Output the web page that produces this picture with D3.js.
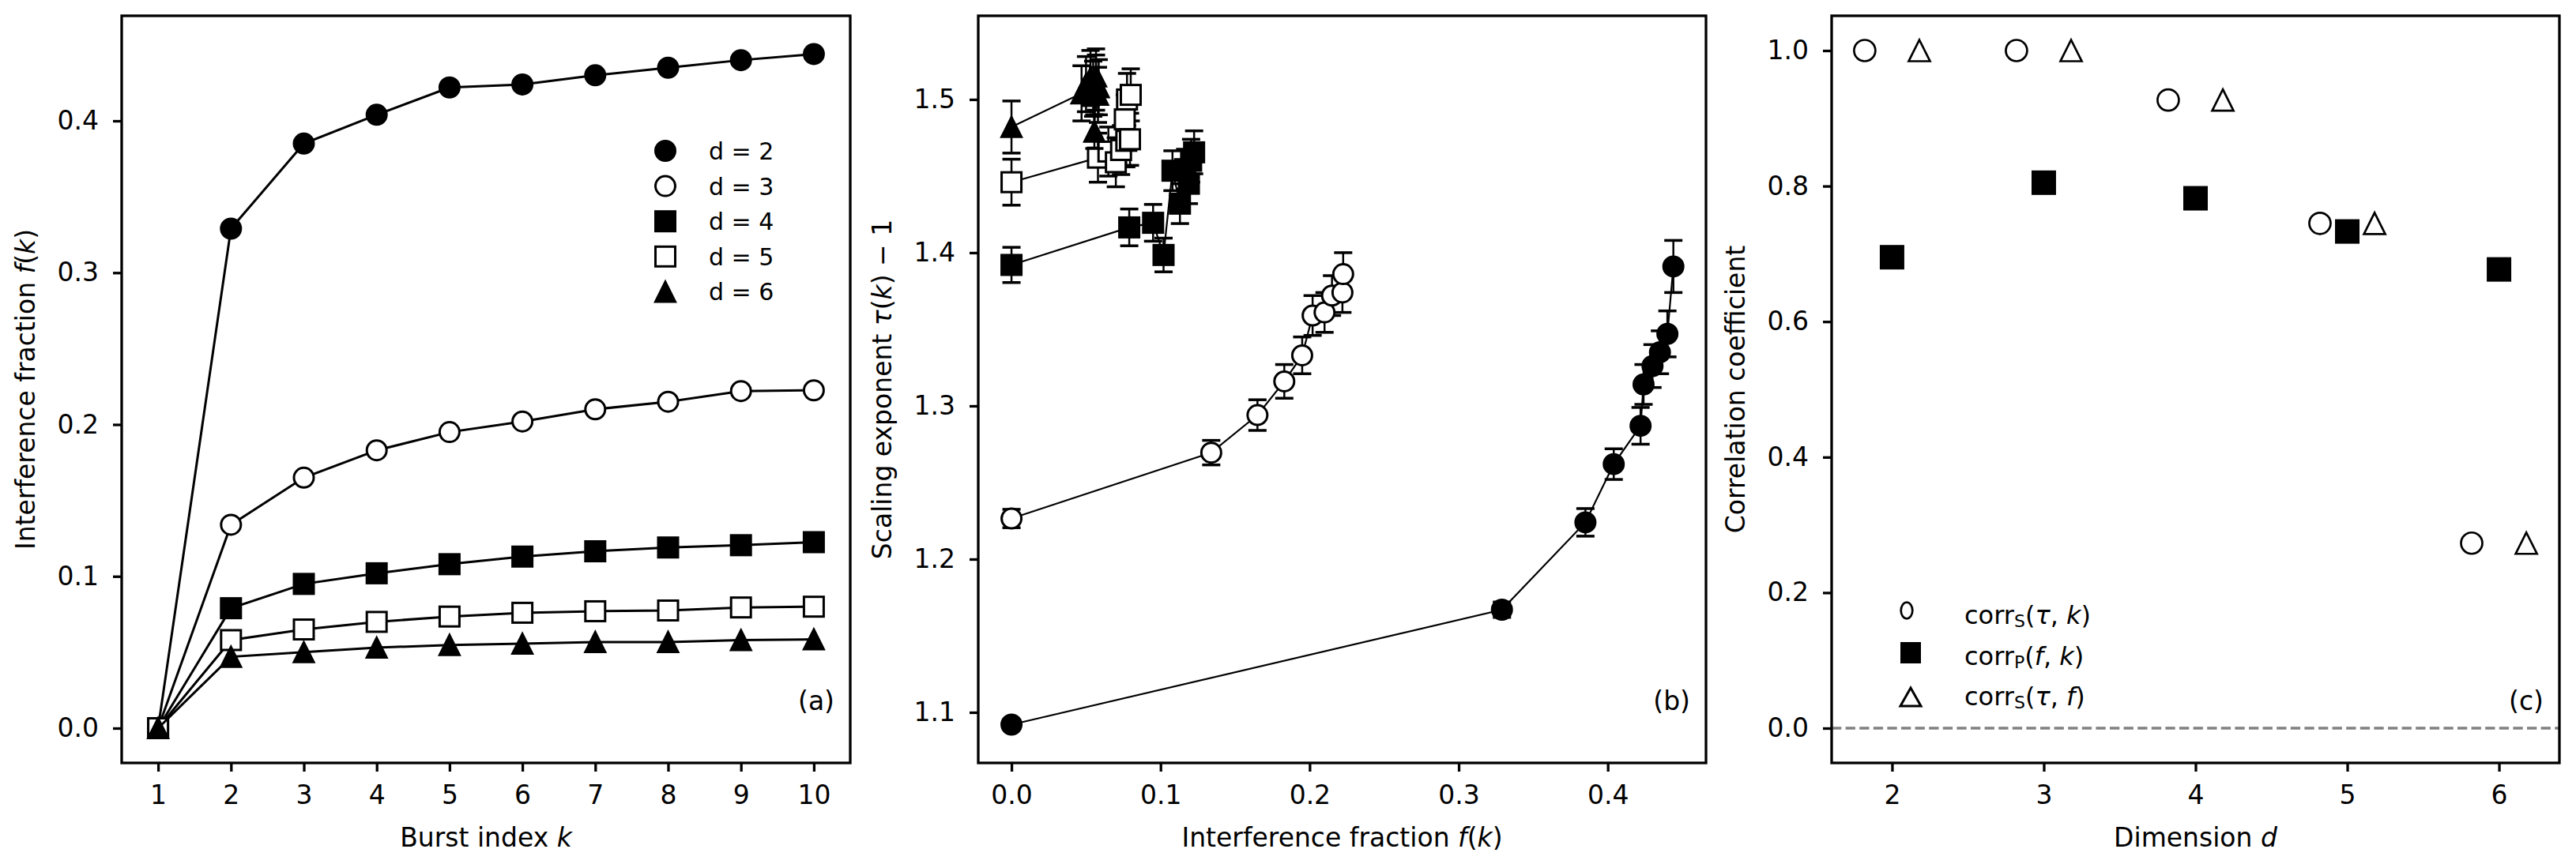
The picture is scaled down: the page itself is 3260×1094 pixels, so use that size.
<!DOCTYPE html>
<html>
<head>
<meta charset="utf-8">
<script src="https://cdn.jsdelivr.net/npm/d3@7"></script>
<style>
body { margin: 0; background: #fff; }
text { font-family: "DejaVu Sans", sans-serif; fill: #000; }
</style>
</head>
<body>
<div class="chart"></div>
<script>
var svgWidth = 3260;
var svgHeight = 1094;

// ---- data ----
var burstIndex = [1, 2, 3, 4, 5, 6, 7, 8, 9, 10];
var dimLabels = ["d = 2", "d = 3", "d = 4", "d = 5", "d = 6"];

// interference fraction f(k)
var fracD2 = [0, 0.329, 0.385, 0.404, 0.422, 0.424, 0.430, 0.435, 0.440, 0.444];
var fracD3 = [0, 0.134, 0.165, 0.183, 0.195, 0.202, 0.210, 0.215, 0.222, 0.2225];
var fracD4 = [0, 0.079, 0.095, 0.102, 0.108, 0.113, 0.1165, 0.119, 0.1205, 0.1225];
var fracD5 = [0, 0.058, 0.065, 0.070, 0.0735, 0.076, 0.077, 0.0775, 0.0795, 0.080];
var fracD6 = [0, 0.047, 0.050, 0.053, 0.0548, 0.0556, 0.0567, 0.0567, 0.058, 0.0585];

// scaling exponent tau(k) - 1 and its error
var tauD2 = [1.092, 1.167, 1.224, 1.262, 1.287, 1.314, 1.326, 1.335, 1.347, 1.391];
var errD2 = [0.003, 0.005, 0.009, 0.010, 0.012, 0.013, 0.014, 0.014, 0.015, 0.017];
var tauD3 = [1.2265, 1.2695, 1.294, 1.316, 1.333, 1.359, 1.361, 1.372, 1.374, 1.386];
var errD3 = [0.006, 0.008, 0.010, 0.011, 0.012, 0.013, 0.013, 0.013, 0.013, 0.014];
var tauD4 = [1.392, 1.4165, 1.4195, 1.3985, 1.4535, 1.432, 1.4545, 1.445, 1.460, 1.4655];
var errD4 = [0.0115, 0.012, 0.012, 0.011, 0.013, 0.013, 0.013, 0.013, 0.014, 0.014];
var tauD5 = [1.446, 1.462, 1.466, 1.459, 1.467, 1.487, 1.473, 1.500, 1.474, 1.503];
var errD5 = [0.015, 0.016, 0.016, 0.016, 0.016, 0.016, 0.017, 0.017, 0.017, 0.017];
var tauD6 = [1.482, 1.504, 1.510, 1.514, 1.507, 1.479, 1.511, 1.515, 1.503, 1.508];
var errD6 = [0.017, 0.018, 0.018, 0.018, 0.018, 0.011, 0.018, 0.018, 0.018, 0.018];

// correlation coefficients per dimension
var dimValues = [2, 3, 4, 5, 6];
var corrTauK = [1.0, 1.0, 0.927, 0.745, 0.273];
var corrFK = [0.695, 0.805, 0.782, 0.733, 0.677];
var corrTauF = [1.0, 1.0, 0.927, 0.745, 0.273];

var xTicksA = [1, 2, 3, 4, 5, 6, 7, 8, 9, 10];
var yTicksA = [0, 0.1, 0.2, 0.3, 0.4];
var xTicksB = [0, 0.1, 0.2, 0.3, 0.4];
var yTicksB = [1.1, 1.2, 1.3, 1.4, 1.5];
var xTicksC = [2, 3, 4, 5, 6];
var yTicksC = [0, 0.2, 0.4, 0.6, 0.8, 1.0];

var fracs = [fracD2, fracD3, fracD4, fracD5, fracD6];
var taus = [tauD2, tauD3, tauD4, tauD5, tauD6];
var errs = [errD2, errD3, errD4, errD5, errD6];

// marker style per dimension
var styles = [
    {shape: "circle", fill: "#000"},
    {shape: "circle", fill: "#fff"},
    {shape: "square", fill: "#000"},
    {shape: "square", fill: "#fff"},
    {shape: "triangle", fill: "#000"}
];

var fontSize = 33;
var axTop = 20, axBottom = 966;
var height = axBottom - axTop;

var svg = d3.select(".chart")
    .append("svg")
    .attr("width", svgWidth)
    .attr("height", svgHeight);

function drawMarker(g, shape, cx, cy, size, fill, sw) {
    var m;
    if (shape === "circle") {
        m = g.append("circle").attr("cx", cx).attr("cy", cy).attr("r", size / 2);
    } else if (shape === "square") {
        m = g.append("rect").attr("x", cx - size / 2).attr("y", cy - size / 2)
            .attr("width", size).attr("height", size);
    } else {
        var h = size / 2;
        m = g.append("path")
            .attr("d", `M${cx},${cy - h}L${cx + h},${cy + h}L${cx - h},${cy + h}Z`)
            .attr("stroke-linejoin", "miter");
    }
    m.attr("fill", fill).attr("stroke", "#000").attr("stroke-width", sw);
    return m;
}

function makeAxes(left, width, x, y, xTicks, yTicks, xFmt, yFmt) {
    var g = svg.append("g").attr("transform", `translate(${left}, ${axTop})`);

    var xAxis = g.append("g")
        .attr("transform", `translate(0, ${height})`)
        .call(d3.axisBottom(x).tickValues(xTicks).tickFormat(xFmt)
            .tickSize(11).tickPadding(18).tickSizeOuter(0));
    var yAxis = g.append("g")
        .call(d3.axisLeft(y).tickValues(yTicks).tickFormat(yFmt)
            .tickSize(11).tickPadding(18).tickSizeOuter(0));

    [xAxis, yAxis].forEach(function(a) {
        a.select(".domain").remove();
        a.selectAll(".tick line").attr("stroke", "#000").attr("stroke-width", 3.3);
        a.selectAll(".tick text")
            .attr("font-size", fontSize)
            .attr("font-family", "DejaVu Sans")
            .attr("fill", "#000");
    });
    return g;
}

function frame(g, width, label) {
    g.append("rect")
        .attr("x", 0).attr("y", 0)
        .attr("width", width).attr("height", height)
        .attr("fill", "none")
        .attr("stroke", "#000")
        .attr("stroke-width", 3.3);
    g.append("text")
        .attr("x", width - 20)
        .attr("y", height - 67)
        .attr("text-anchor", "end")
        .attr("font-size", fontSize)
        .text(label);
}

function addLabel(sel, parts) {
    parts.forEach(function(p) {
        var t = sel.append("tspan").text(p[0]);
        if (p[1]) t.attr("font-style", "italic");
    });
}

function xLabel(g, width, parts) {
    var t = g.append("text")
        .attr("x", width / 2)
        .attr("y", height + 106)
        .attr("text-anchor", "middle")
        .attr("font-size", fontSize);
    addLabel(t, parts);
}

function yLabel(g, parts) {
    var t = g.append("text")
        .attr("transform", `translate(-110, ${height / 2}) rotate(-90)`)
        .attr("text-anchor", "middle")
        .attr("font-size", fontSize);
    addLabel(t, parts);
}

var fmt1 = d3.format(".1f");

// ---------- panel (a) ----------
var widthA = 922;
var xA = d3.scaleLinear().domain([0.5, 10.5]).range([0, widthA]);
var yA = d3.scaleLinear().domain([-0.0229, 0.4692]).range([height, 0]);
var gA = makeAxes(154, widthA, xA, yA, xTicksA, yTicksA, d3.format("d"), fmt1);

var lineA = d3.line()
    .x(function(d, i) { return xA(burstIndex[i]); })
    .y(function(d) { return yA(d); });

fracs.forEach(function(series, s) {
    gA.append("path")
        .attr("d", lineA(series))
        .attr("fill", "none")
        .attr("stroke", "#000")
        .attr("stroke-width", 3);
    series.forEach(function(v, i) {
        drawMarker(gA, styles[s].shape, xA(burstIndex[i]), yA(v), 25, styles[s].fill, 3);
    });
});

// legend (a)
dimLabels.forEach(function(lab, s) {
    var cy = 171 + s * 44.6;
    drawMarker(gA, styles[s].shape, 688, cy, 25, styles[s].fill, 3);
    gA.append("text")
        .attr("x", 743)
        .attr("y", cy + 11)
        .attr("font-size", 30)
        .text(lab);
});

frame(gA, widthA, "(a)");
xLabel(gA, widthA, [["Burst index "], ["k", true]]);
yLabel(gA, [["Interference fraction "], ["f", true], ["("], ["k", true], [")"]]);

// ---------- panel (b) ----------
var widthB = 921;
var xB = d3.scaleLinear().domain([-0.0223, 0.4659]).range([0, widthB]);
var yB = d3.scaleLinear().domain([1.067, 1.5546]).range([height, 0]);
var gB = makeAxes(1238, widthB, xB, yB, xTicksB, yTicksB, fmt1, fmt1);

var lineB = d3.line()
    .x(function(d) { return xB(d[0]); })
    .y(function(d) { return yB(d[1]); });

fracs.forEach(function(series, s) {
    var pts = series.map(function(f, i) { return [f, taus[s][i], errs[s][i]]; });
    var eb = gB.append("g").attr("stroke", "#000");
    pts.forEach(function(p) {
        var px = xB(p[0]);
        eb.append("line").attr("x1", px).attr("x2", px)
            .attr("y1", yB(p[1] - p[2])).attr("y2", yB(p[1] + p[2]))
            .attr("stroke-width", 2.5);
        [p[1] - p[2], p[1] + p[2]].forEach(function(v) {
            eb.append("line").attr("x1", px - 11.5).attr("x2", px + 11.5)
                .attr("y1", yB(v)).attr("y2", yB(v))
                .attr("stroke-width", 3.5);
        });
    });
    gB.append("path")
        .attr("d", lineB(pts))
        .attr("fill", "none")
        .attr("stroke", "#000")
        .attr("stroke-width", 2.2);
    pts.forEach(function(p) {
        drawMarker(gB, styles[s].shape, xB(p[0]), yB(p[1]), 25, styles[s].fill, 3);
    });
});

frame(gB, widthB, "(b)");
xLabel(gB, widthB, [["Interference fraction "], ["f", true], ["("], ["k", true], [")"]]);
yLabel(gB, [["Scaling exponent "], ["\u03c4", true], ["("], ["k", true], [") \u2212 1"]]);

// ---------- panel (c) ----------
var widthC = 921;
var xC = d3.scaleLinear().domain([1.602, 6.398]).range([0, widthC]);
var yC = d3.scaleLinear().domain([-0.0513, 1.0513]).range([height, 0]);
var gC = makeAxes(2318, widthC, xC, yC, xTicksC, yTicksC, d3.format("d"), fmt1);

gC.append("line")
    .attr("x1", 0).attr("x2", widthC)
    .attr("y1", yC(0)).attr("y2", yC(0))
    .attr("stroke", "#808080")
    .attr("stroke-width", 3.3)
    .attr("stroke-dasharray", "12.3,5.3");

var offset = 0.18;
dimValues.forEach(function(d, i) {
    drawMarker(gC, "circle", xC(d - offset), yC(corrTauK[i]), 27, "none", 2.7);
    drawMarker(gC, "square", xC(d), yC(corrFK[i]), 29, "#000", 2);
    drawMarker(gC, "triangle", xC(d + offset), yC(corrTauF[i]), 27, "none", 2.7);
});

// legend (c)
var legC = gC.append("g");
legC.append("ellipse").attr("cx", 95).attr("cy", 753).attr("rx", 7.3).attr("ry", 10.3)
    .attr("fill", "none").attr("stroke", "#000").attr("stroke-width", 2.7);
legC.append("rect").attr("x", 87).attr("y", 793).attr("width", 26).attr("height", 27)
    .attr("fill", "#000");
legC.append("path").attr("d", "M100,851L113,874L87,874Z")
    .attr("fill", "none").attr("stroke", "#000").attr("stroke-width", 3);

var legRows = [
    [["corr"], ["S", false, "sub"], ["("], ["\u03c4", true], [", "], ["k", true], [")"]],
    [["corr"], ["P", false, "sub"], ["("], ["f", true], [", "], ["k", true], [")"]],
    [["corr"], ["S", false, "sub"], ["("], ["\u03c4", true], [", "], ["f", true], [")"]]
];
legRows.forEach(function(parts, r) {
    var t = legC.append("text")
        .attr("x", 168)
        .attr("y", 770 + r * 51.5)
        .attr("font-size", 32);
    var shifted = false;
    parts.forEach(function(p) {
        var ts = t.append("tspan").text(p[0]);
        if (p[1]) ts.attr("font-style", "italic");
        if (p[2] === "sub") {
            ts.attr("font-size", 22).attr("dy", 4);
            shifted = true;
        } else if (shifted) {
            ts.attr("dy", -4);
            shifted = false;
        }
    });
});

frame(gC, widthC, "(c)");
xLabel(gC, widthC, [["Dimension "], ["d", true]]);
yLabel(gC, [["Correlation coefficient"]]);
</script>
</body>
</html>
